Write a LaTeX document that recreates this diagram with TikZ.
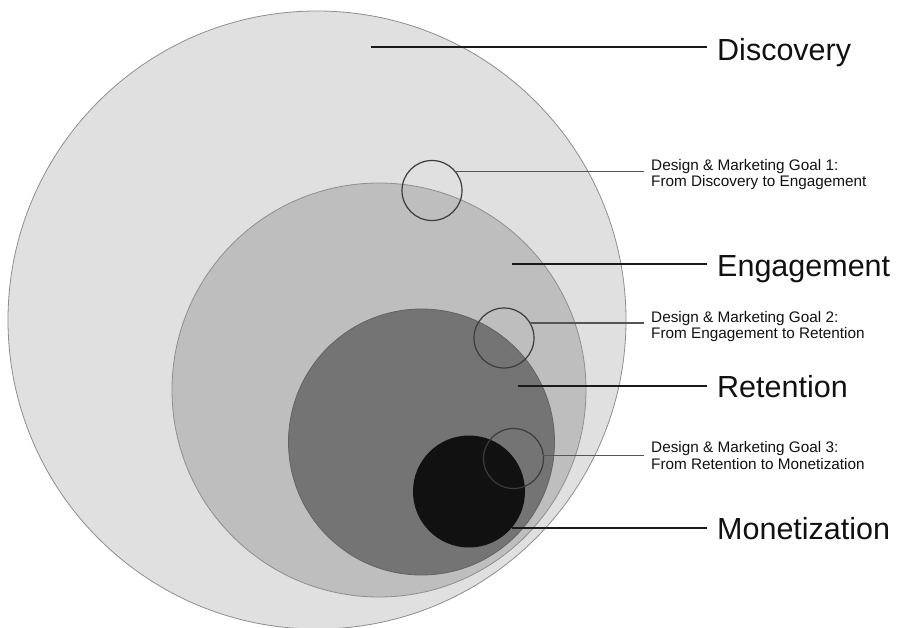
\documentclass[tikz,border=0pt]{standalone}
\usepackage{fontspec}
\setmainfont{Liberation Sans}
\definecolor{discfill}{HTML}{E0E0E0}
\definecolor{engfill}{HTML}{BEBEBE}
\definecolor{retfill}{HTML}{747474}
\definecolor{monfill}{HTML}{111111}
\definecolor{ringgray}{HTML}{8E8E8E}
\definecolor{goalgray}{HTML}{3C3C3C}
\definecolor{leadgray}{HTML}{555555}
\definecolor{leaddark}{HTML}{1A1A1A}
\definecolor{labeltext}{HTML}{111111}
\begin{document}
\begin{tikzpicture}[x=1pt,y=-1pt,
  stage/.style={circle, inner sep=0pt, outer sep=0pt, draw=ringgray, line width=0.8pt},
  goalring/.style={circle, inner sep=0pt, outer sep=0pt, minimum size=60pt, draw=goalgray, line width=1.2pt},
  biglabel/.style={anchor=base west, inner sep=0pt, font=\fontsize{30.5}{36}\selectfont, text=labeltext},
  goallabel/.style={anchor=base west, inner sep=0pt, align=left, font=\fontsize{15.3}{16.8}\selectfont, text=labeltext},
  bigline/.style={draw=leaddark, line width=2pt, shorten >=10pt},
  goalline/.style={draw=leadgray, line width=1.1pt, shorten >=7pt}]
\useasboundingbox (0,0) rectangle (899,627);

% nested stages of the funnel
\node[stage, fill=discfill, minimum size=618pt] (disc) at (317,320) {};
\node[stage, fill=engfill, minimum size=414pt] (eng) at (379,390) {};
\node[stage, fill=retfill, draw=ringgray!70!black, minimum size=266pt] (ret) at (421.5,442) {};
\node[circle, inner sep=0pt, outer sep=0pt, fill=monfill, minimum size=112pt] (mon) at (469,491.5) {};

% transition rings between stages
\node[goalring] (g1) at (432,190.5) {};
\node[goalring] (g2) at (504,338) {};
\node[goalring] (g3) at (513.5,458.5) {};

% stage labels
\node[biglabel] (discl) at (717,60) {Discovery};
\node[biglabel] (engl) at (717,276) {Engagement};
\node[biglabel] (retl) at (717,397) {Retention};
\node[biglabel] (monl) at (717,539) {Monetization};

% goal labels (base anchor sits on the second line)
\node[goallabel] (t1) at (651,186.8) {Design \& Marketing Goal 1:\\From Discovery to Engagement};
\node[goallabel] (t2) at (651,338.8) {Design \& Marketing Goal 2:\\From Engagement to Retention};
\node[goallabel] (t3) at (651,469.1) {Design \& Marketing Goal 3:\\From Retention to Monetization};

% leader start points inside the stages
\coordinate (ds) at (371,47);
\coordinate (es) at (512,264);
\coordinate (rs) at (518,386);

% leaders to the stage labels
\draw[bigline] (ds) -- (ds -| discl.west);
\draw[bigline] (es) -- (es -| engl.west);
\draw[bigline] (rs) -- (rs -| retl.west);
\draw[bigline] (mon.-40.7) -- (mon.-40.7 -| monl.west);

% leaders to the goal labels
\draw[goalline] (g1.40) -- (g1.40 -| t1.west);
\draw[goalline] (g2.30) -- (g2.30 -| t2.west);
\draw[goalline] (g3.5) -- (g3.5 -| t3.west);
\end{tikzpicture}
\end{document}
